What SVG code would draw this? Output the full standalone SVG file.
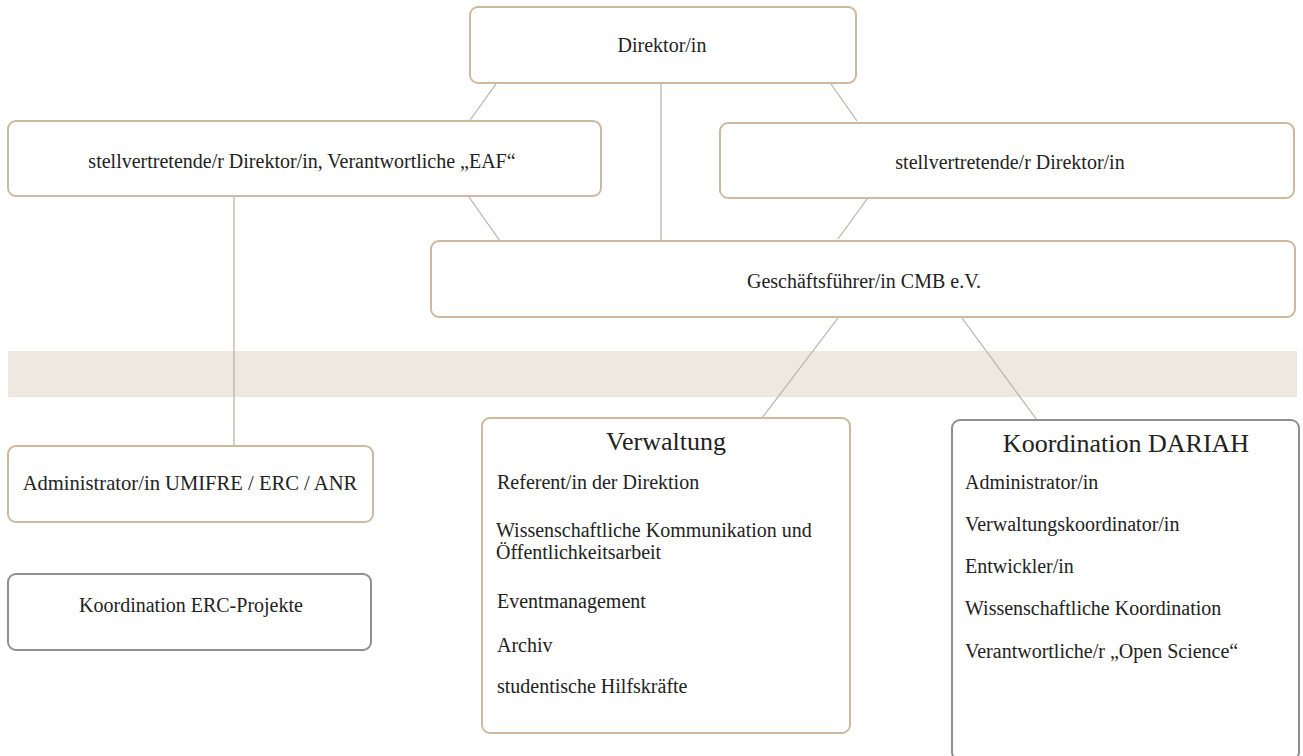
<svg xmlns="http://www.w3.org/2000/svg" width="1303" height="756" viewBox="0 0 1303 756" font-family="'Liberation Serif', 'DejaVu Serif', 'Times New Roman', serif">
<style>
.b{fill:#fff;stroke:#cdb99d;stroke-width:2}
.g{fill:#fff;stroke:#8f8f92;stroke-width:2}
text{font-family:'Liberation Serif','DejaVu Serif','Times New Roman',serif;fill:#222}
.t{font-size:20px}
.h{font-size:26px}
.c{text-anchor:middle}
.l{stroke:#b9afa3;stroke-width:1.2;fill:none}
</style>
<rect x="8" y="351" width="1289" height="46" fill="#eee9e0"/>
<g id="connectors">
<line class="l" x1="496" y1="84" x2="470" y2="120"/>
<line class="l" x1="661" y1="84" x2="661" y2="241"/>
<line class="l" x1="831" y1="84" x2="857" y2="121"/>
<line class="l" x1="469" y1="197" x2="500" y2="241"/>
<line class="l" x1="234" y1="197" x2="234" y2="446"/>
<line class="l" x1="867" y1="199" x2="838" y2="239"/>
<line class="l" x1="838" y1="318" x2="762" y2="418"/>
<line class="l" x1="962" y1="318" x2="1037" y2="420"/>
</g>
<g id="direktor"><rect class="b" x="470" y="7" width="386" height="76" rx="8"/><text class="t c" x="662" y="52">Direktor/in</text></g>
<g id="stv-eaf"><rect class="b" x="8" y="121" width="593" height="75" rx="8"/><text class="t c" x="302" y="168">stellvertretende/r Direktor/in, Verantwortliche „EAF“</text></g>
<g id="stv"><rect class="b" x="720" y="123" width="574" height="75" rx="8"/><text class="t c" x="1010" y="169">stellvertretende/r Direktor/in</text></g>
<g id="gf"><rect class="b" x="431" y="241" width="864" height="76" rx="8"/><text class="t c" x="864" y="288">Geschäftsführer/in CMB e.V.</text></g>
<g id="admin"><rect class="b" x="8" y="446" width="365" height="76" rx="8"/><text class="t c" x="190" y="490" style="font-size:20.6px">Administrator/in UMIFRE / ERC / ANR</text></g>
<g id="erc"><rect class="g" x="8" y="574" width="363" height="76" rx="8"/><text class="t c" x="191" y="612">Koordination ERC-Projekte</text></g>
<g id="verwaltung"><rect class="b" x="482" y="418" width="368" height="315" rx="8"/>
<text class="h c" x="666" y="450">Verwaltung</text>
<text class="t" x="497" y="489">Referent/in der Direktion</text>
<text class="t" x="496" y="537">Wissenschaftliche Kommunikation und<tspan x="496" dy="22">Öffentlichkeitsarbeit</tspan></text>
<text class="t" x="497" y="608">Eventmanagement</text>
<text class="t" x="497" y="652">Archiv</text>
<text class="t" x="497" y="693">studentische Hilfskräfte</text>
</g>
<g id="dariah"><rect class="g" x="952" y="420" width="347" height="340" rx="8"/>
<text class="h c" x="1126" y="452">Koordination DARIAH</text>
<text class="t" x="965" y="489">Administrator/in</text>
<text class="t" x="965" y="531">Verwaltungskoordinator/in</text>
<text class="t" x="965" y="573">Entwickler/in</text>
<text class="t" x="965" y="615">Wissenschaftliche Koordination</text>
<text class="t" x="965" y="658">Verantwortliche/r „Open Science“</text>
</g>
</svg>
